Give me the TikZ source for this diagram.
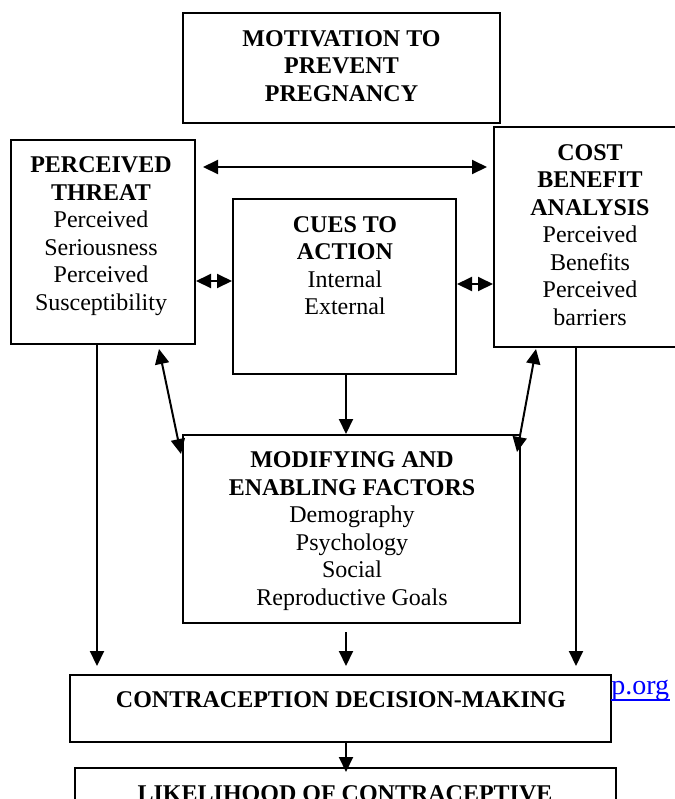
\documentclass[tikz,border=0pt]{standalone}
\usepackage{fontspec}
\setmainfont{Liberation Serif}
\usetikzlibrary{arrows.meta,calc}
\tikzset{
  box/.style={draw, line width=1pt, fill=white, inner sep=0pt},
  txt/.style={align=center, font=\fontsize{12}{13.75}\selectfont, inner sep=0pt},
  btxt/.style={txt, font=\fontsize{12}{13.75}\selectfont\bfseries},
  tipA/.tip={Triangle[length=7.5pt,width=7pt]},
  arr/.style={line width=1pt, -tipA},
  dbl/.style={line width=1pt, tipA-tipA},
}
\begin{document}
\begin{tikzpicture}[x=0.5pt,y=-0.5pt]
\useasboundingbox (0,0) rectangle (675,799);
\clip (0,0) rectangle (675,799);
% boxes
\node[box, minimum width=158.5pt, minimum height=55pt] (mot) at (341.5,68) {};
\node[btxt] (motT) at (341.5,66) {MOTIVATION TO\\PREVENT\\PREGNANCY};

\node[box, minimum width=92pt, minimum height=102pt] (pt) at (103,242) {};
\node[txt] (ptT) at (101,236) {\textbf{PERCEIVED}\\\textbf{THREAT}\\Perceived\\Seriousness\\Perceived\\Susceptibility};

\node[box, minimum width=96pt, minimum height=110pt] (cb) at (590,237) {};
\node[txt] (cbT) at (590,235) {\textbf{COST}\\\textbf{BENEFIT}\\\textbf{ANALYSIS}\\Perceived\\Benefits\\Perceived\\barriers};

\node[box, minimum width=111.5pt, minimum height=87.5pt] (cue) at (344.5,286.5) {};
\node[txt] (cueT) at (345,265.5) {\textbf{CUES TO}\\\textbf{ACTION}\\Internal\\External};

\node[box, minimum width=168.5pt, minimum height=94pt] (mod) at (351.5,529) {};
\node[txt] (modT) at (352,531) {\textbf{MODIFYING AND}\\\textbf{ENABLING FACTORS}\\Demography\\Psychology\\Social\\Reproductive Goals};

\node[box, minimum width=270.5pt, minimum height=33.5pt] (dec) at (340.5,708.5) {};
\node[btxt] (decT) at (341,700) {CONTRACEPTION DECISION-MAKING};

\node[box, minimum width=270.5pt, minimum height=40pt] (lik) at (345.5,808) {};
\node[btxt, anchor=base] (likT) at (345,801) {LIKELIHOOD OF CONTRACEPTIVE};

% link fragment
\node[inner sep=0pt, anchor=base west, text=blue, font=\fontsize{14}{16}\selectfont] (porg) at (611,694) {p.org};
\draw[blue, line width=0.6pt] ($(porg.base west)+(0,6)$) -- ($(porg.base east)+(0,6)$);

% connectors
\draw[dbl] ($(pt.north east)+(7,28)$) -- ($(cb.north west)+(-6,41)$);
\draw[dbl] ($(pt.north east)+(0,142)$) -- ($(cue.north west)+(0,83)$);
\draw[dbl] ($(cue.north east)+(0,86)$) -- ($(cb.north west)+(0,158)$);
\draw[arr] ($(cue.south)+(1.5,0)$) -- ($(mod.north)+(-5.5,0)$);
\draw[dbl] ($(pt.south west)+(149,4)$) -- ($(mod.north west)+(-1,20)$);
\draw[dbl] ($(cb.south west)+(43,1)$) -- ($(mod.north east)+(-4,18)$);
\draw[arr] ($(pt.south)+(-6,0)$) -- ($(dec.north)+(-243.5,-8)$);
\draw[arr] ($(mod.south)+(-5.5,8)$) -- ($(dec.north)+(5.5,-8)$);
\draw[arr] ($(cb.south)+(-14,0)$) -- ($(dec.north)+(235.5,-8)$);
\draw[arr] ($(dec.south)+(5.5,0)$) -- ($(lik.north)+(0.5,5)$);
\end{tikzpicture}
\end{document}
